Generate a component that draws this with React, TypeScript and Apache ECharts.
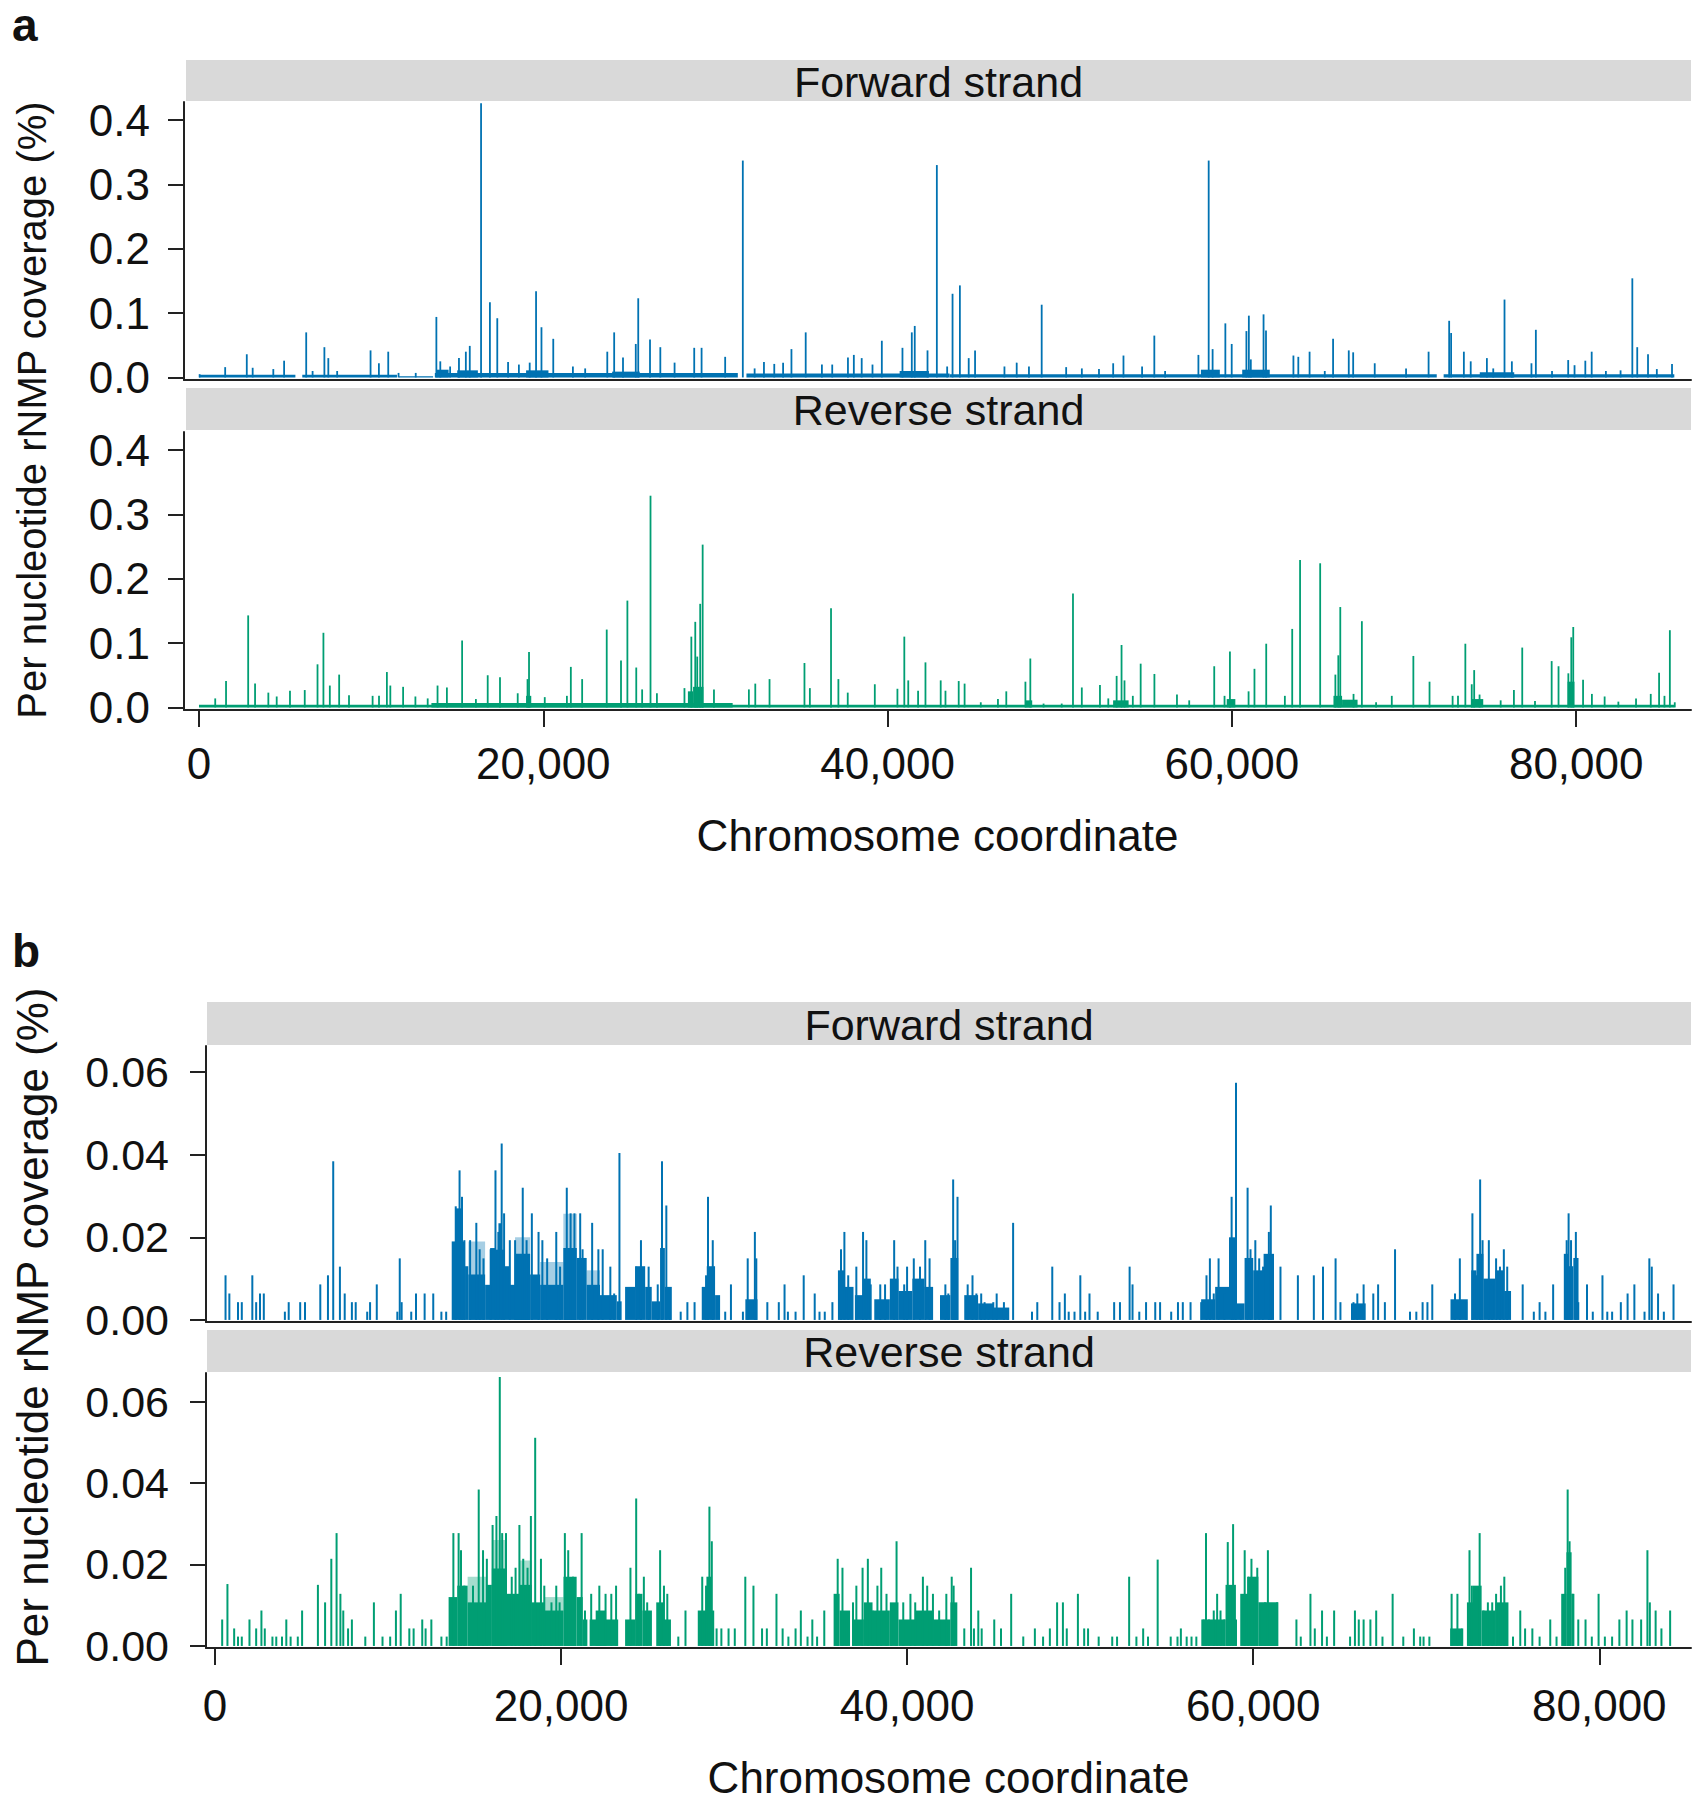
import { useEffect, useRef } from 'react';
import * as echarts from 'echarts';

// tick values and labels
const xTicks = [0, 20000, 40000, 60000, 80000];
const yTicksA = [0, 0.1, 0.2, 0.3, 0.4];
const yTicksB = [0, 0.02, 0.04, 0.06];
const stripLabels = ['Forward strand', 'Reverse strand'];
const yTitle = 'Per nucleotide rNMP coverage (%)';
const xTitle = 'Chromosome coordinate';

// panel a, forward strand: [position, coverage]
const aForwardSpikes = [
  [37, 0.005], [1521, 0.016], [2776, 0.036], [3118, 0.015], [4317, 0.013], [4944, 0.026], [6228, 0.07], [6599, 0.01],
  [7284, 0.047], [7512, 0.03], [8026, 0.01], [9966, 0.042], [10450, 0.022], [10993, 0.04], [11592, 0.007], [12590, 0.007],
  [13789, 0.094], [14017, 0.025], [14588, 0.017], [15101, 0.03], [15501, 0.04], [15729, 0.049], [16385, 0.426], [16899, 0.117],
  [17327, 0.092], [17954, 0.024], [18582, 0.02], [19210, 0.023], [19580, 0.134], [19894, 0.078], [20579, 0.06], [21720, 0.017],
  [22433, 0.014], [23717, 0.04], [24117, 0.07], [24630, 0.031], [25372, 0.052], [25515, 0.123], [26199, 0.059], [26798, 0.047],
  [27626, 0.023], [28767, 0.046], [29195, 0.046], [30565, 0.032], [31590, 0.337], [32276, 0.014], [32818, 0.024], [33417, 0.021],
  [33930, 0.023], [34415, 0.044], [35243, 0.07], [36184, 0.02], [36784, 0.02], [37697, 0.031], [38039, 0.035], [38496, 0.03],
  [39123, 0.02], [39665, 0.057], [40864, 0.046], [41406, 0.07], [41577, 0.08], [42319, 0.042], [42861, 0.33],
  [43460, 0.017], [43773, 0.13], [44199, 0.143], [44712, 0.03], [45081, 0.042], [46788, 0.017], [47500, 0.023], [48211, 0.017],
  [48951, 0.113], [50373, 0.016], [51284, 0.014], [52279, 0.013], [53104, 0.022], [53702, 0.034], [54783, 0.017], [55494, 0.065],
  [56120, 0.01], [58055, 0.035], [58652, 0.337], [58880, 0.044], [59620, 0.084], [59989, 0.052], [60843, 0.072], [60985, 0.096],
  [61099, 0.028], [61839, 0.098], [61981, 0.073], [63574, 0.034], [63858, 0.032], [64513, 0.04], [65395, 0.01], [65878, 0.06],
  [66789, 0.042], [67045, 0.039], [68297, 0.022], [70117, 0.014], [71426, 0.04], [72621, 0.088], [72735, 0.069], [73475, 0.04],
  [73873, 0.025], [74812, 0.03], [75182, 0.014], [75836, 0.121], [76263, 0.025], [77401, 0.022], [77657, 0.074], [78596, 0.01],
  [79535, 0.027], [79904, 0.019], [80530, 0.026], [80900, 0.04], [81725, 0.01], [82578, 0.011], [83261, 0.154], [83546, 0.047],
  [84172, 0.036], [84684, 0.013], [85566, 0.021],
];
// low dense coverage along the baseline: [from, to, coverage]
const aForwardBlocks = [
  [0, 5600, 0.004], [6000, 11500, 0.004], [11600, 13600, 0.002], [13700, 31300, 0.007], [31800, 43600, 0.006],
  [43600, 71900, 0.005], [72300, 85700, 0.005], [13800, 14500, 0.012], [15000, 16200, 0.011], [19000, 20300, 0.011],
  [24000, 25600, 0.009], [40700, 42400, 0.01], [58200, 59300, 0.012], [60600, 62200, 0.012], [74400, 76400, 0.008],
];

// panel a, reverse strand
const aReverseSpikes = [
  [943, 0.014], [1571, 0.041], [2857, 0.143], [3257, 0.037], [4028, 0.023], [4514, 0.017], [5285, 0.026], [6143, 0.027],
  [6885, 0.067], [7228, 0.116], [7600, 0.034], [8142, 0.051], [8714, 0.019], [10085, 0.018], [10457, 0.018], [10914, 0.055],
  [11114, 0.034], [11857, 0.032], [12571, 0.017], [13285, 0.014], [13857, 0.034], [14400, 0.031], [15285, 0.104], [16085, 0.013],
  [16771, 0.05], [17485, 0.047], [18514, 0.022], [19085, 0.044], [19171, 0.086], [20085, 0.016], [21371, 0.018], [21600, 0.063],
  [22257, 0.044], [23685, 0.121], [24514, 0.073], [24885, 0.166], [25400, 0.062], [25742, 0.028], [26228, 0.329], [26600, 0.022],
  [28200, 0.03], [28600, 0.11], [28828, 0.133], [28942, 0.079], [29114, 0.161], [29257, 0.253], [29914, 0.028], [31942, 0.028],
  [32314, 0.037], [33142, 0.044], [35171, 0.069], [35485, 0.03], [36714, 0.154], [37142, 0.044], [37685, 0.023], [39257, 0.036],
  [40571, 0.029], [40971, 0.11], [41200, 0.042], [41771, 0.026], [42200, 0.07], [43085, 0.042], [43362, 0.026],
  [44131, 0.041], [44473, 0.037], [45413, 0.008], [46410, 0.013], [46895, 0.025], [48006, 0.04], [48291, 0.076], [49060, 0.006],
  [50114, 0.006], [50769, 0.177], [51282, 0.031], [52336, 0.035], [52820, 0.014], [53305, 0.049], [53590, 0.097], [53761, 0.042],
  [54245, 0.018], [54701, 0.068], [55499, 0.052], [56809, 0.02], [57521, 0.011], [58974, 0.064], [59573, 0.018], [59886, 0.087],
  [60969, 0.025], [61311, 0.06], [61994, 0.099], [63077, 0.018], [63504, 0.122], [63960, 0.229], [65128, 0.224], [66011, 0.051],
  [66182, 0.081], [66296, 0.156], [67066, 0.021], [67550, 0.134], [68376, 0.008], [69288, 0.018], [70541, 0.08], [71481, 0.04],
  [72821, 0.018], [73134, 0.018], [73561, 0.099], [73932, 0.036], [74074, 0.058], [74387, 0.02], [75613, 0.011], [76382, 0.027],
  [76866, 0.093], [77607, 0.01], [78575, 0.072], [78974, 0.064], [79544, 0.053], [79715, 0.109], [79829, 0.125], [80399, 0.043],
  [80912, 0.021], [81652, 0.017], [82450, 0.009], [83476, 0.014], [84331, 0.021], [84815, 0.054], [85128, 0.018], [85441, 0.12],
  [85726, 0.008],
];
const aReverseBlocks = [
  [0, 85700, 0.004], [13500, 31000, 0.007], [19000, 19300, 0.018], [28400, 28700, 0.025], [28700, 29300, 0.032],
  [48000, 48400, 0.011], [53100, 54000, 0.011], [59700, 60200, 0.013], [65900, 66400, 0.018], [66400, 67300, 0.012],
  [73900, 74600, 0.013], [79500, 79900, 0.04],
];

// panel b, forward strand
const bForwardSpikes = [
  [609, 0.0108], [830, 0.0064], [1328, 0.0043], [1549, 0.0043], [2157, 0.0108], [2379, 0.0043], [2600, 0.0064], [2821, 0.0064],
  [4038, 0.002], [4260, 0.0043], [4923, 0.0043], [5200, 0.0043], [6085, 0.0086], [6528, 0.0108], [6832, 0.0384], [7219, 0.0129],
  [7496, 0.0064], [7911, 0.0043], [8132, 0.0043], [8796, 0.002], [8962, 0.0043], [9349, 0.0086], [10538, 0.002], [10677, 0.0149],
  [10787, 0.0043], [11341, 0.002], [11617, 0.0064], [12115, 0.0064], [12613, 0.0064], [13083, 0.002], [13360, 0.002],
  [13913, 0.0275], [14134, 0.0362], [14273, 0.0298], [14411, 0.0193], [14743, 0.0193], [15102, 0.0235], [15296, 0.0171],
  [15517, 0.0149], [15932, 0.0171], [16209, 0.0362], [16375, 0.0213], [16568, 0.0427], [16707, 0.0258], [17039, 0.0193],
  [17343, 0.0193], [17785, 0.032], [18007, 0.0193], [18311, 0.0258], [18698, 0.0213], [18919, 0.0193], [19196, 0.0149],
  [19722, 0.0213], [19943, 0.0129], [20330, 0.032], [20551, 0.0258], [20773, 0.0258], [21105, 0.0258], [21243, 0.0171],
  [21796, 0.0235], [22156, 0.0171], [22405, 0.0171], [22847, 0.0129], [23068, 0.0064], [23373, 0.0404],
  [24341, 0.0129], [24617, 0.0193], [25060, 0.0129], [25586, 0.0086], [25834, 0.0384], [26083, 0.0277], [26277, 0.0064],
  [26913, 0.002], [27300, 0.0043], [27715, 0.0043], [28379, 0.0108], [28490, 0.0298], [28766, 0.0193], [29486, 0.002],
  [29817, 0.0086], [30509, 0.002], [30786, 0.0149], [31200, 0.0213], [31283, 0.0149], [31920, 0.0043], [32583, 0.0043],
  [32915, 0.0086], [33109, 0.002], [33552, 0.002], [34022, 0.0108], [34658, 0.0064], [34935, 0.002], [35239, 0.002],
  [35681, 0.0043], [36179, 0.0171], [36373, 0.0213], [36594, 0.0108], [37064, 0.0129], [37452, 0.0213], [37645, 0.0193],
  [37894, 0.0086], [38447, 0.0086], [38724, 0.0086], [39250, 0.0193], [39443, 0.0129], [39830, 0.0086], [39996, 0.0129],
  [40384, 0.0149], [40743, 0.0129], [41047, 0.0193], [41296, 0.0149], [42209, 0.0086],
  [42380, 0.0064], [42659, 0.034], [42771, 0.0193], [42911, 0.0298], [43498, 0.0086], [43777, 0.0108], [44001, 0.0064],
  [44280, 0.0064], [44475, 0.0043], [44699, 0.002], [44978, 0.0043], [45174, 0.0064], [45593, 0.0043], [45817, 0.002],
  [46124, 0.0235], [47214, 0.002], [47521, 0.0043], [48387, 0.0129], [48806, 0.0043], [49114, 0.0064], [49337, 0.002],
  [49672, 0.002], [50008, 0.0108], [50287, 0.002], [50538, 0.0064], [51013, 0.002], [51963, 0.0043], [52299, 0.0043],
  [52857, 0.0129], [53025, 0.0086], [53416, 0.002], [53807, 0.0043], [54338, 0.0043], [54618, 0.0043], [55260, 0.002],
  [55651, 0.0043], [55931, 0.0043], [56378, 0.0043], [56993, 0.0043], [57300, 0.0108], [57496, 0.0149], [57719, 0.0064],
  [57998, 0.0149], [58333, 0.0064], [58752, 0.0298], [58864, 0.0193], [59004, 0.0574], [59284, 0.002], [59675, 0.032],
  [59843, 0.0171], [60122, 0.0193], [60345, 0.0149], [60569, 0.0129], [60904, 0.0213], [61016, 0.0277], [61575, 0.0129],
  [62581, 0.0108], [63503, 0.0108], [64034, 0.0129], [64760, 0.0149], [65040, 0.0043], [65794, 0.0043], [66017, 0.0064],
  [66380, 0.0086], [66939, 0.0064], [67218, 0.0086], [67609, 0.0043], [68196, 0.0171], [69062, 0.002], [69426, 0.002],
  [69789, 0.0043], [70068, 0.0043], [70348, 0.0086], [71661, 0.0064], [71941, 0.0149], [72304, 0.0043], [72667, 0.0258],
  [72918, 0.0108], [73114, 0.034], [73254, 0.0193], [73617, 0.0193], [73813, 0.0086], [74036, 0.0149], [74260, 0.0129],
  [74484, 0.0171], [74679, 0.0129], [75573, 0.0086], [76216, 0.002], [76551, 0.0043], [76886, 0.002], [77333, 0.0086],
  [78115, 0.0193], [78227, 0.0258], [78367, 0.0193], [78646, 0.0213], [78786, 0.0043], [79289, 0.0086], [79624, 0.002],
  [80183, 0.0108], [80462, 0.002], [80742, 0.002], [81245, 0.0043], [81636, 0.0064], [82027, 0.0086], [82614, 0.002],
  [82893, 0.0149], [83033, 0.0129], [83396, 0.0064], [83731, 0.002], [84290, 0.0086],
];
// solid profile of the dense clusters
const bForwardBlocks = [
  [13680, 13870, 0.019], [13870, 14260, 0.027], [14260, 14450, 0.019], [14450, 14640, 0.013], [14640, 15610, 0.011],
  [15610, 15900, 0.0085], [15900, 16190, 0.0174], [16190, 16380, 0.017], [16380, 16570, 0.0234], [16570, 16760, 0.017],
  [16760, 17050, 0.013], [17050, 17340, 0.0085], [17340, 18210, 0.016], [18210, 18790, 0.011], [18790, 20130, 0.0085],
  [20130, 20910, 0.0174], [20910, 21480, 0.015], [21480, 22250, 0.0085], [22250, 23220, 0.006], [23220, 23500, 0.0045],
  [23700, 24280, 0.008], [24280, 24860, 0.013], [24860, 25240, 0.008], [25240, 25720, 0.0045], [25720, 26000, 0.0174],
  [26000, 26400, 0.008], [28130, 28420, 0.008], [28420, 28900, 0.013], [28900, 29190, 0.006], [30650, 31350, 0.005],
  [36000, 36400, 0.012], [36400, 36900, 0.008], [36980, 37500, 0.006], [37500, 37900, 0.01], [38100, 39000, 0.005],
  [39000, 39500, 0.01], [39500, 40300, 0.007], [40300, 41000, 0.01], [41000, 41500, 0.008], [41900, 42500, 0.006],
  [42500, 42950, 0.015], [43300, 44100, 0.006], [44100, 45000, 0.004], [45000, 45900, 0.003], [56990, 57800, 0.005],
  [57800, 58600, 0.008], [58600, 59050, 0.02], [59050, 59500, 0.004], [59500, 60000, 0.015], [60000, 60600, 0.012],
  [60600, 61200, 0.016], [65650, 66500, 0.004], [71400, 72400, 0.005], [72600, 72900, 0.012], [72900, 73300, 0.016],
  [73300, 74000, 0.01], [74000, 74500, 0.012], [74500, 74900, 0.007], [77950, 78200, 0.016], [78200, 78500, 0.013],
  [78500, 78800, 0.015],
];
// thinner, partly filled layer above the solid profile
const bForwardHaze = [
  [14640, 15610, 0.019], [17340, 18210, 0.02], [18790, 20130, 0.014], [20130, 20910, 0.0257], [21480, 22250, 0.012],
];

// panel b, reverse strand
const bReverseSpikes = [
  [415, 0.0065], [719, 0.0152], [1107, 0.0043], [1328, 0.0023], [1549, 0.0023], [1992, 0.0065], [2379, 0.0043], [2683, 0.0087],
  [2877, 0.0043], [3319, 0.0023], [3541, 0.0023], [3873, 0.0023], [4121, 0.0065], [4370, 0.0023], [4785, 0.0023], [5034, 0.0087],
  [5947, 0.015], [6362, 0.0107], [6722, 0.0214], [7026, 0.0277], [7247, 0.0128], [7413, 0.0087], [7690, 0.0043], [7911, 0.0065],
  [8686, 0.0023], [9183, 0.0107], [9681, 0.0023], [10124, 0.0023], [10456, 0.0087], [10732, 0.0128], [11230, 0.0043],
  [11479, 0.0043], [11977, 0.0065], [12171, 0.0043], [12503, 0.0065], [13084, 0.0023], [13389, 0.0023],
  [13776, 0.0277], [14079, 0.0277], [14217, 0.0235], [14411, 0.0148], [14909, 0.0148], [15241, 0.0384], [15490, 0.0235],
  [15711, 0.0214], [16043, 0.0297], [16264, 0.0319], [16458, 0.066], [16596, 0.0277], [16817, 0.0277], [17149, 0.017],
  [17371, 0.0192], [17592, 0.0297], [17813, 0.0214], [18062, 0.0192], [18256, 0.0319], [18504, 0.0511], [18837, 0.0214],
  [19030, 0.0148], [19445, 0.0107], [19722, 0.0148], [19915, 0.0107], [20219, 0.0277], [20413, 0.0235], [20690, 0.017],
  [21188, 0.0277], [21381, 0.0087], [21741, 0.0128], [22211, 0.0148], [22571, 0.0128], [22903, 0.0128], [23179, 0.0148],
  [24009, 0.0192], [24341, 0.0362], [24507, 0.0128], [24784, 0.017], [24977, 0.0107], [25724, 0.0235], [25946, 0.0148],
  [26139, 0.0128], [26775, 0.0023], [27190, 0.0087], [28158, 0.017], [28379, 0.0148], [28573, 0.0342], [28711, 0.0257],
  [28988, 0.0043], [29264, 0.0043], [29679, 0.0043], [30039, 0.0043], [30647, 0.017], [31118, 0.0148], [31615, 0.0043],
  [31892, 0.0043], [32448, 0.0128], [32804, 0.0043], [33137, 0.0023], [33552, 0.0043], [33856, 0.0087], [34243, 0.0023],
  [34520, 0.0065], [34796, 0.0023], [35211, 0.0087], [35986, 0.0214], [36262, 0.0192], [36511, 0.0065], [36871, 0.0107],
  [37065, 0.0148], [37424, 0.0192], [37729, 0.0214], [38005, 0.0087], [38282, 0.0148], [38503, 0.0192], [38807, 0.0128],
  [39084, 0.0087], [39388, 0.0257], [39775, 0.0107], [40190, 0.0128], [40467, 0.0107], [40910, 0.017], [41159, 0.0148],
  [41491, 0.0128], [41850, 0.0087], [42265, 0.0128],
  [42576, 0.017], [42687, 0.0148], [43302, 0.0043], [43693, 0.0192], [43861, 0.0043], [44112, 0.0087], [44308, 0.0043],
  [45034, 0.0065], [45425, 0.0043], [46012, 0.0128], [46711, 0.0023], [47381, 0.0043], [47856, 0.0023], [48248, 0.0043],
  [48666, 0.0107], [49002, 0.0107], [49225, 0.0043], [49868, 0.0128], [50231, 0.0043], [50455, 0.0043], [51069, 0.0023],
  [51852, 0.0023], [52131, 0.0023], [52830, 0.017], [53249, 0.0023], [53640, 0.0043], [53919, 0.0023], [54478, 0.0212],
  [55232, 0.0023], [55624, 0.0023], [55819, 0.0043], [56154, 0.0023], [56434, 0.0023], [56713, 0.0023], [57132, 0.0065],
  [57272, 0.0277], [57440, 0.0065], [57719, 0.0087], [57915, 0.0128], [58110, 0.0087], [58334, 0.0065], [58529, 0.0255],
  [58669, 0.0148], [58837, 0.0299], [59005, 0.0065], [59507, 0.0235], [59703, 0.017], [59898, 0.0214], [60066, 0.0148],
  [60234, 0.0192], [60485, 0.0087], [60681, 0.0107], [60848, 0.0235], [61044, 0.0065], [61379, 0.0107], [62497, 0.0065],
  [62748, 0.0023], [63307, 0.0128], [63559, 0.0043], [63978, 0.0087], [64257, 0.0023], [64676, 0.0087], [65598, 0.0023],
  [65878, 0.0087], [66101, 0.0065], [66380, 0.0065], [66772, 0.0065], [67107, 0.0087], [67470, 0.0023], [68057, 0.0128],
  [68672, 0.0023], [69286, 0.0043], [69650, 0.0023], [69845, 0.0023], [70180, 0.0023], [71466, 0.0128], [71801, 0.0128],
  [72080, 0.0043], [72499, 0.0235], [72639, 0.0148], [73086, 0.0277], [73310, 0.0087], [73561, 0.0107], [73812, 0.0107],
  [74036, 0.0128], [74315, 0.0148], [74511, 0.017], [74651, 0.0065], [75014, 0.0023], [75433, 0.0087], [75712, 0.0043],
  [76132, 0.0043], [76551, 0.0023], [77166, 0.0065], [77529, 0.0023], [78032, 0.0192], [78172, 0.0384], [78283, 0.0257],
  [78451, 0.0128], [78786, 0.0065], [79205, 0.0065], [79568, 0.0023], [79959, 0.0128], [80322, 0.0023], [80741, 0.0023],
  [81160, 0.0065], [81580, 0.0087], [81915, 0.0065], [82418, 0.0065], [82781, 0.0235], [82921, 0.0107], [83256, 0.0087],
  [83591, 0.0043], [84094, 0.0087],
];
const bReverseBlocks = [
  [13500, 14000, 0.012], [14000, 14600, 0.0148], [14600, 15700, 0.0107], [15700, 16000, 0.015], [16000, 16800, 0.019],
  [16800, 17600, 0.0128], [17600, 18300, 0.015], [18300, 19030, 0.0107], [19030, 20140, 0.0087], [20140, 20900, 0.017],
  [20900, 21250, 0.012], [21250, 21520, 0.0065], [21650, 23300, 0.0065], [22000, 22600, 0.0087], [23700, 24300, 0.0065],
  [24300, 24700, 0.0128], [24700, 25250, 0.0087], [25500, 25950, 0.0107], [25950, 26350, 0.0065], [27900, 28400, 0.0087],
  [28400, 28700, 0.017], [28700, 28850, 0.0087], [35750, 36100, 0.0128], [36100, 36700, 0.0087], [36850, 37500, 0.0065],
  [37500, 38000, 0.0107], [38000, 39000, 0.0087], [39000, 39500, 0.0107], [39500, 40500, 0.0065], [40500, 41500, 0.0087],
  [41500, 42500, 0.0065], [42500, 42900, 0.0107], [57000, 58400, 0.0065], [58400, 59000, 0.015], [59250, 59700, 0.0128],
  [59700, 60300, 0.017], [60300, 61450, 0.0107], [71380, 72080, 0.0043], [72350, 72700, 0.0107], [72700, 73200, 0.0148],
  [73200, 74000, 0.0087], [74000, 74750, 0.0107], [77800, 78100, 0.0128], [78100, 78400, 0.023], [78400, 78560, 0.0128],
];
const bReverseHaze = [
  [14600, 15700, 0.017], [16000, 16800, 0.026], [17600, 18300, 0.021], [19030, 20140, 0.012],
];

const FONT = "'Liberation Sans', Arial, Helvetica, sans-serif";
const BLUE = '#0072B2';
const GREEN = '#009E73';
const INK = '#222222';

const panels = [
  { grid: { left: 184, top: 102, width: 1507, height: 278 }, xMin: -871, xMax: 86669, yMin: -0.004, yMax: 0.428,
    yTicks: yTicksA, digits: 1, yMargin: 34, ySize: 44, bottom: false,
    spikes: aForwardSpikes, blocks: aForwardBlocks, haze: [], color: BLUE, barW: 1.8 },
  { grid: { left: 184, top: 432, width: 1507, height: 278 }, xMin: -871, xMax: 86669, yMin: -0.004, yMax: 0.428,
    yTicks: yTicksA, digits: 1, yMargin: 34, ySize: 44, bottom: true, labelMargin: 31, nameGap: 103,
    spikes: aReverseSpikes, blocks: aReverseBlocks, haze: [], color: GREEN, barW: 1.8 },
  { grid: { left: 206, top: 1046, width: 1485, height: 276 }, xMin: -520, xMax: 85300, yMin: -0.0005, yMax: 0.0663,
    yTicks: yTicksB, digits: 2, yMargin: 37, ySize: 43, bottom: false,
    spikes: bForwardSpikes, blocks: bForwardBlocks, haze: bForwardHaze, color: BLUE, barW: 2 },
  { grid: { left: 206, top: 1373, width: 1485, height: 278 }, xMin: -520, xMax: 85300, yMin: -0.0005, yMax: 0.067,
    yTicks: yTicksB, digits: 2, yMargin: 37, ySize: 43, bottom: true, labelMargin: 35, nameGap: 107,
    spikes: bReverseSpikes, blocks: bReverseBlocks, haze: bReverseHaze, color: GREEN, barW: 2 },
];

const strips = [
  { x: 186, y: 60, w: 1505, h: 41, label: stripLabels[0] },
  { x: 186, y: 388, w: 1505, h: 42, label: stripLabels[1] },
  { x: 207, y: 1002, w: 1484, h: 43, label: stripLabels[0] },
  { x: 207, y: 1330, w: 1484, h: 42, label: stripLabels[1] },
];

const textStyle = (text: string, size: number, extra: any = {}) => ({
  text, fontSize: size, fontFamily: FONT, fill: '#111',
  textAlign: 'center', textVerticalAlign: 'middle', align: 'center', verticalAlign: 'middle', ...extra,
});

const blockSeries = (i: number, data: number[][], color: string, opacity: number) => ({
  type: 'custom', xAxisIndex: i, yAxisIndex: i, silent: true, clip: true,
  encode: { x: [0, 1], y: 2 },
  data,
  renderItem: (_params: any, api: any) => {
    const a = api.coord([api.value(0), 0]);
    const b = api.coord([api.value(1), api.value(2)]);
    return {
      type: 'rect',
      shape: { x: a[0], y: b[1], width: b[0] - a[0], height: a[1] - b[1] },
      style: { fill: color, opacity },
    };
  },
});

const App = () => {
  const chartRef = useRef<HTMLDivElement | null>(null);

  useEffect(() => {
    if (!chartRef.current) return;
    const chart = echarts.init(chartRef.current, null, { renderer: 'svg' });

    const axisLine = { show: true, onZero: false, lineStyle: { color: INK, width: 2 } };
    const tickStyle = { color: INK, width: 2 };

    const xAxis = panels.map((p, i) => ({
      type: 'value', gridIndex: i, min: p.xMin, max: p.xMax,
      axisLine,
      axisTick: { show: p.bottom, length: 17, lineStyle: tickStyle, customValues: xTicks },
      axisLabel: {
        show: p.bottom, customValues: xTicks, margin: p.labelMargin || 30,
        fontSize: 44, fontFamily: FONT, color: '#111',
        formatter: (v: number) => Number(v).toLocaleString('en-US'),
      },
      splitLine: { show: false },
      name: p.bottom ? xTitle : '',
      nameLocation: 'middle',
      nameGap: p.nameGap || 100,
      nameTextStyle: { fontSize: 44, fontFamily: FONT, color: '#111' },
    }));

    const yAxis = panels.map((p, i) => ({
      type: 'value', gridIndex: i, min: p.yMin, max: p.yMax,
      axisLine,
      axisTick: { show: true, length: 16, lineStyle: tickStyle, customValues: p.yTicks },
      axisLabel: {
        customValues: p.yTicks, margin: p.yMargin, fontSize: p.ySize, fontFamily: FONT, color: '#111',
        formatter: (v: number) => Number(v).toFixed(p.digits),
      },
      splitLine: { show: false },
    }));

    const series: any[] = [];
    panels.forEach((p, i) => {
      series.push(blockSeries(i, p.haze, p.color, 0.35));
      series.push(blockSeries(i, p.blocks, p.color, 1));
      series.push({
        type: 'custom', xAxisIndex: i, yAxisIndex: i, silent: true, clip: true,
        encode: { x: 0, y: 1 },
        data: p.spikes,
        renderItem: (_params: any, api: any) => {
          const base = api.coord([api.value(0), 0]);
          const top = api.coord([api.value(0), api.value(1)]);
          return {
            type: 'rect',
            shape: { x: base[0] - p.barW / 2, y: top[1], width: p.barW, height: base[1] - top[1] },
            style: { fill: p.color },
          };
        },
      });
    });

    const graphic: any[] = [];
    strips.forEach((s) => {
      graphic.push({ type: 'rect', silent: true, shape: { x: s.x, y: s.y, width: s.w, height: s.h }, style: { fill: '#d9d9d9' } });
      graphic.push({ type: 'text', silent: true, x: s.x + s.w / 2, y: s.y + s.h / 2 + 1, style: textStyle(s.label, 43) });
    });
    graphic.push({ type: 'text', silent: true, x: 32, y: 410, rotation: Math.PI / 2, style: textStyle(yTitle, 40) });
    graphic.push({ type: 'text', silent: true, x: 32, y: 1327, rotation: Math.PI / 2, style: textStyle(yTitle, 44) });
    graphic.push({ type: 'text', silent: true, x: 12, y: 25,
      style: textStyle('a', 46, { fontWeight: 'bold', textAlign: 'left', align: 'left' }) });
    graphic.push({ type: 'text', silent: true, x: 12, y: 951,
      style: textStyle('b', 46, { fontWeight: 'bold', textAlign: 'left', align: 'left' }) });

    chart.setOption({
      animation: false,
      backgroundColor: '#ffffff',
      grid: panels.map((p) => ({ ...p.grid, containLabel: false })),
      xAxis,
      yAxis,
      series,
      graphic,
    });

    return () => {
      chart.dispose();
    };
  }, []);

  return <div ref={chartRef} style={{ position: 'absolute', left: 0, top: 0, width: '1698px', height: '1800px' }} />;
};

export default App;
